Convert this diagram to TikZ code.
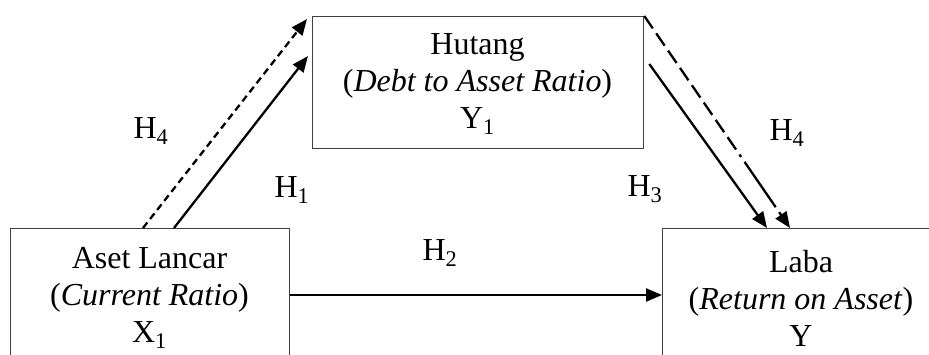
\documentclass[tikz,border=0pt]{standalone}
\usepackage{fontspec}
\setmainfont{Liberation Serif}
\usetikzlibrary{arrows.meta,calc}
\tikzset{
  box/.style={draw=black!75, line width=1.3pt, rectangle, inner sep=0pt, anchor=north west},
  boxtext/.style={align=center, inner sep=0pt, font=\fontsize{32}{37}\selectfont},
  lbl/.style={inner sep=0pt, anchor=base, font=\fontsize{32}{37}\selectfont},
  conn/.style={line width=2.3pt, -{Triangle[length=16pt,width=13pt]}},
  shortdash/.style={dash pattern=on 7pt off 4.5pt},
  longdash/.style={dash pattern=on 15pt off 6pt on 15pt off 6pt on 15pt off 6pt on 15pt off 6pt on 15pt off 6pt on 15pt off 6pt on 15pt off 6pt on 15pt off 6pt on 3pt off 6pt on 40pt off 0pt}
}
\begin{document}
\begin{tikzpicture}[x=1pt,y=-1pt]
\useasboundingbox (0,0) rectangle (929,354);
\clip (0,0) rectangle (929,354);
% boxes
\node[box, minimum width=279pt, minimum height=200pt] (L) at (10,228) {};
\node[box, minimum width=331pt, minimum height=132pt] (T) at (312,16) {};
\node[box, minimum width=279pt, minimum height=200pt] (R) at (662,228) {};
% box texts
\node[boxtext] (Lt) at (149.5,298) {Aset Lancar\\(\textit{Current Ratio})\\X\textsubscript{1}};
\node[boxtext] (Tt) at (477.5,84) {Hutang\\(\textit{Debt to Asset Ratio})\\Y\textsubscript{1}};
\node[boxtext] (Rt) at (801,298) {Laba\\(\textit{Return on Asset})\\Y};
% connectors
\draw[conn, shortdash] ($(L.north west)+(133,0)$) -- ($(T.north west)+(-5,3)$);
\draw[conn] ($(L.north west)+(164,0)$) -- ($(T.north west)+(-4,40)$);
\draw[conn, longdash] (T.north east) -- ($(R.north west)+(128,0)$);
\draw[conn] ($(T.north east)+(5,48)$) -- ($(R.north west)+(105,0)$);
\draw[conn] ($(L.north east)+(0,67)$) -- ($(R.north west)+(0,67)$);
% labels
\node[lbl] (h4a) at (151,138) {H\textsubscript{4}};
\node[lbl] (h1) at (292,197) {H\textsubscript{1}};
\node[lbl] (h2) at (440,260) {H\textsubscript{2}};
\node[lbl] (h3) at (645,196) {H\textsubscript{3}};
\node[lbl] (h4b) at (787,140) {H\textsubscript{4}};
\end{tikzpicture}
\end{document}
